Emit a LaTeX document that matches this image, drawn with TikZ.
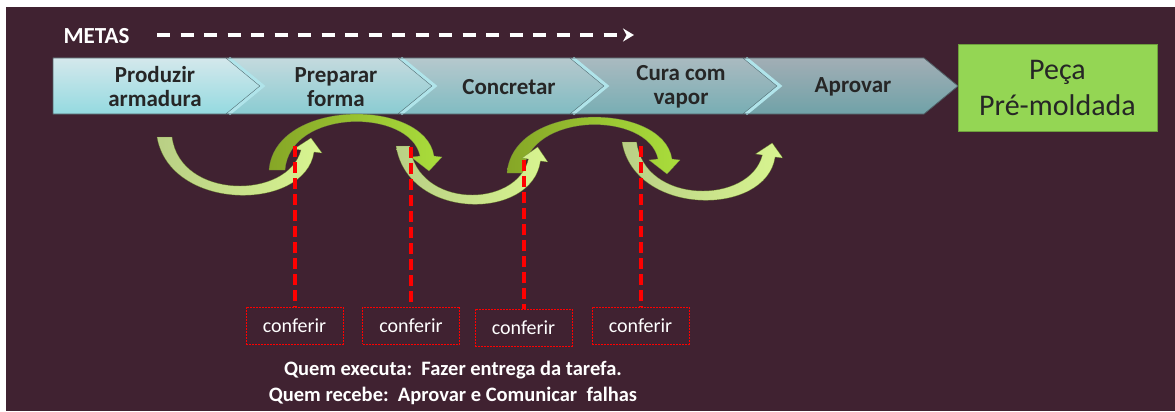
\documentclass[tikz,border=0pt]{standalone}
\usepackage{fontspec}
\setmainfont{Carlito}
\usetikzlibrary{arrows.meta}
\definecolor{bgc}{RGB}{64,34,49}
\definecolor{ctxt}{RGB}{38,38,38}
\definecolor{pgreen}{RGB}{148,214,84}
\definecolor{pgreenedge}{RGB}{110,160,60}
\definecolor{notchlight}{RGB}{176,228,234}
\definecolor{notchdark}{RGB}{90,120,126}
\definecolor{bandedge}{RGB}{80,96,102}
\definecolor{ua}{RGB}{185,207,133}
\definecolor{ub}{RGB}{160,208,56}
\definecolor{uc}{RGB}{216,245,144}
\definecolor{na}{RGB}{134,166,38}
\definecolor{nb}{RGB}{188,216,116}
\definecolor{nc}{RGB}{170,222,60}
\definecolor{redline}{RGB}{255,0,0}
\tikzset{
  chev/.style={draw=none},
  ctext/.style={font=\fontsize{23}{24}\selectfont\bfseries, text=ctxt, align=center, inner sep=0pt},
  notchhi/.style={draw=notchlight, line width=3pt},
  notchlo/.style={draw=notchdark, line width=0.6pt},
  pecabox/.style={draw=pgreenedge, line width=0.8pt, fill=pgreen, minimum width=199pt, minimum height=87pt,
     font=\fontsize{30}{36}\selectfont, text=ctxt, align=center, inner sep=0pt},
  metastext/.style={font=\fontsize{23}{24}\selectfont\bfseries, text=white, inner sep=0pt},
  metasarrow/.style={draw=white, line width=3.8pt, dash pattern=on 13pt off 10.5pt, -{Stealth[length=11pt,width=13pt]}},
  reddash/.style={draw=redline, line width=4pt, dash pattern=on 11pt off 5pt},
  confbox/.style={draw=redline, line width=0.7pt, dash pattern=on 2pt off 1pt, minimum width=97pt, minimum height=37pt,
     font=\fontsize{20}{21}\selectfont, text=white, inner sep=0pt},
  btext/.style={font=\fontsize{20.5}{21}\selectfont\bfseries, text=white, inner sep=0pt},
  uarr/.pic={
    \shade[left color=ua, middle color=ub, right color=uc, draw=black!40!ub, draw opacity=0.6, line width=0.4pt]
      (0,0) .. controls (13,75) and (148,75) .. (157,15)
      -- (165,16) -- (154,1) -- (137,12) -- (144,13)
      .. controls (131,63) and (23,63) .. (15,0) -- cycle;
  },
  narr/.pic={
    \shade[left color=na, middle color=nb, right color=nc, draw=black!40!nb, draw opacity=0.6, line width=0.4pt]
      (0,0) .. controls (6,-72) and (156,-72) .. (165,-14)
      -- (173,-13) -- (160,1) -- (142,-13) -- (151,-14)
      .. controls (141,-62) and (21,-62) .. (16,0) -- cycle;
  }
}
\begin{document}
\begin{tikzpicture}[x=1pt,y=-1pt]
\useasboundingbox (0,0) rectangle (1175,412);
\fill[white] (0,0) rectangle (1175,412);
\fill[bgc] (6,7) rectangle (1175,411);

% METAS
\node[metastext] (metas) at (96.5,36.5) {METAS};
\coordinate (ms) at (157,35);
\coordinate (me) at (634,35);
\draw[metasarrow] (ms) -- (me);

% chevron band
\shade[chev, top color={rgb,255:red,212;green,232;blue,236}, bottom color={rgb,255:red,148;green,218;blue,224}]
  (53,58) -- (228,58) -- (262,86) -- (228,114) -- (53,114) -- cycle;
\shade[chev, top color={rgb,255:red,196;green,218;blue,222}, bottom color={rgb,255:red,138;green,204;blue,210}]
  (228,58) -- (400,58) -- (434,86) -- (400,114) -- (228,114) -- (262,86) -- cycle;
\shade[chev, top color={rgb,255:red,182;green,200;blue,205}, bottom color={rgb,255:red,128;green,188;blue,194}]
  (400,58) -- (572,58) -- (606,86) -- (572,114) -- (400,114) -- (434,86) -- cycle;
\shade[chev, top color={rgb,255:red,170;green,186;blue,192}, bottom color={rgb,255:red,120;green,174;blue,180}]
  (572,58) -- (745,58) -- (779,86) -- (745,114) -- (572,114) -- (606,86) -- cycle;
\shade[chev, top color={rgb,255:red,162;green,174;blue,181}, bottom color={rgb,255:red,112;green,162;blue,168}]
  (745,58) -- (924,58) -- (958,86) -- (924,114) -- (745,114) -- (779,86) -- cycle;
\foreach \bx in {228,400,572,745}{
  \draw[notchlo] (\bx-2,58) -- (\bx+32,86) -- (\bx-2,114);
  \draw[notchhi] (\bx+1,58) -- (\bx+35,86) -- (\bx+1,114);
}
\draw[bandedge, line width=0.8pt] (53,58) -- (924,58) -- (958,86) -- (924,114) -- (53,114) -- cycle;

\node[ctext] (s1) at (155,87) {Produzir\\armadura};
\node[ctext] (s2) at (336,87) {Preparar\\forma};
\node[ctext] (s3) at (509,87) {Concretar};
\node[ctext] (s4) at (681,87) {Cura com\\vapor};
\node[ctext] (s5) at (853,87) {Aprovar};

\node[pecabox] (peca) at (1057.5,88) {Peça\\Pré-moldada};

% curved arrows
\pic at (269,170) {narr};
\pic at (507,173) {narr};
\pic at (157,137) {uarr};
\pic[xscale=0.92] at (396,146) {uarr};
\pic[xscale=0.975] at (622,142) {uarr};

% conferir boxes
\node[confbox] (c1) at (294.5,325.5) {conferir};
\node[confbox] (c2) at (411,325.5) {conferir};
\node[confbox] (c3) at (523.5,327.5) {conferir};
\node[confbox] (c4) at (640.5,325.5) {conferir};

\coordinate (r1) at (294.5,146);
\coordinate (r2) at (411,147);
\coordinate (r3) at (523.5,160);
\coordinate (r4) at (640.5,146);
\draw[reddash] (r1) -- (c1.north);
\draw[reddash] (r2) -- (c2.north);
\draw[reddash] (r3) -- (c3.north);
\draw[reddash] (r4) -- (c4.north);

\node[btext] (q1) at (453,370) {Quem executa:\ \ Fazer entrega da tarefa.};
\node[btext] (q2) at (453,396) {Quem recebe:\ \ Aprovar e Comunicar\ \ falhas};
\end{tikzpicture}
\end{document}
